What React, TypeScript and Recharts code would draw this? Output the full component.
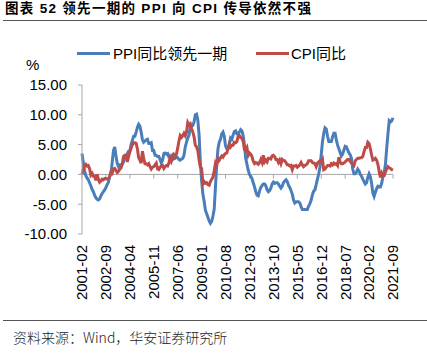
import React from "react";
import {
  LineChart,
  Line,
  XAxis,
  YAxis,
  ReferenceLine,
} from "recharts";

// CPI yoy, 2001-02 .. 2021-09
const cpi = [
  0.0, 0.8, 1.6, 1.7, 1.4, 1.5, 1.0, -0.1, 0.2, -0.3, -0.3,
  -1.0, 0.0, -0.8, -1.3, -1.1, -0.8, -0.9, -0.7, -0.7, -0.8, -0.7, -0.4,
  0.4, 0.2, 0.9, 1.0, 0.7, 0.3, 0.5, 0.9, 1.1, 1.8, 3.0, 3.2,
  3.2, 2.1, 3.0, 3.8, 4.4, 5.0, 5.3, 5.3, 5.2, 4.3, 2.8, 2.4,
  1.9, 3.9, 2.7, 1.8, 1.8, 1.6, 1.8, 1.3, 0.9, 1.2, 1.3, 1.6,
  1.9, 0.9, 0.8, 1.2, 1.4, 1.5, 1.0, 1.3, 1.5, 1.4, 1.9, 2.8,
  2.2, 2.7, 3.3, 3.0, 3.4, 4.4, 5.6, 6.5, 6.2, 6.5, 6.9, 6.5,
  7.1, 8.7, 8.3, 8.5, 7.7, 7.1, 6.3, 4.9, 4.6, 4.0, 2.4, 1.2,
  1.0, -1.6, -1.2, -1.5, -1.4, -1.7, -1.8, -1.2, -0.8, -0.5, 0.6, 1.9,
  1.5, 2.7, 2.4, 2.8, 3.1, 2.9, 3.3, 3.5, 3.6, 4.4, 5.1, 4.6,
  4.9, 4.9, 5.4, 5.3, 5.5, 6.4, 6.5, 6.2, 6.1, 5.5, 4.2, 4.1,
  4.5, 3.2, 3.6, 3.4, 3.0, 2.2, 1.8, 2.0, 1.9, 1.7, 2.0, 2.5,
  2.0, 3.2, 2.1, 2.4, 2.1, 2.7, 2.7, 2.6, 3.1, 3.2, 3.0, 2.5,
  2.5, 2.0, 2.4, 1.8, 2.5, 2.3, 2.3, 2.0, 1.6, 1.6, 1.4, 1.5,
  0.8, 1.4, 1.4, 1.5, 1.2, 1.4, 1.6, 2.0, 1.6, 1.3, 1.5, 1.6,
  1.8, 2.3, 2.3, 2.3, 2.0, 1.9, 1.8, 1.3, 1.9, 2.1, 2.3, 2.1,
  2.5, 0.8, 0.9, 1.2, 1.5, 1.5, 1.4, 1.8, 1.6, 1.9, 1.7, 1.8,
  1.5, 2.9, 2.1, 1.8, 1.8, 1.9, 2.1, 2.3, 2.5, 2.5, 2.2, 1.9,
  1.7, 1.5, 2.3, 2.5, 2.7, 2.7, 2.8, 2.8, 3.0, 3.8, 4.5, 4.5,
  5.4, 5.2, 4.3, 3.3, 2.4, 2.5, 2.7, 2.4, 1.7, 0.5, -0.5, 0.2,
  -0.3, -0.2, 0.4, 0.9, 1.3, 1.1, 1.0, 0.8, 0.7,
];

// PPI yoy shifted one month (value shown at month t is PPI of t-1)
const ppiLead = [
  3.5, 2.0, 0.6, -0.2, -0.6, -0.9, -1.4, -1.9, -2.5, -2.9, -3.5, -3.9,
  -4.2, -4.3, -4.1, -3.6, -3.2, -2.9, -2.6, -2.2, -1.7, -1.3, -0.3, 0.2,
  2.0, 4.0, 4.6, 3.1, 1.8, 1.3, 1.6, 1.6, 1.7, 2.1, 2.9, 2.9,
  3.5, 3.9, 4.0, 5.0, 5.7, 6.4, 6.4, 7.1, 7.9, 8.4, 8.1, 7.1,
  5.8, 5.4, 5.6, 5.8, 5.9, 5.2, 5.2, 5.3, 4.0, 4.0, 3.2, 3.2,
  3.0, 3.0, 2.5, 1.9, 2.4, 3.5, 3.6, 3.4, 3.5, 2.9, 2.8, 3.1,
  3.3, 2.6, 2.7, 2.9, 2.8, 2.5, 2.4, 2.6, 2.7, 3.2, 4.6, 5.4,
  6.1, 6.6, 8.0, 8.1, 8.2, 8.8, 10.0, 10.1, 9.1, 6.6, 2.0, -1.1,
  -3.3, -4.5, -6.0, -6.6, -7.2, -7.8, -8.2, -7.9, -7.0, -5.8, -2.1, 1.7,
  4.3, 5.4, 5.9, 6.8, 7.1, 6.4, 4.8, 4.3, 4.3, 5.0, 6.1, 5.9,
  6.6, 7.2, 7.3, 6.8, 6.8, 7.1, 7.5, 7.3, 6.5, 5.0, 2.7, 1.7,
  0.7, 0.0, -0.3, -0.7, -1.4, -2.1, -2.9, -3.5, -3.6, -2.8, -2.2, -1.9,
  -1.6, -1.6, -1.9, -2.6, -2.9, -2.7, -2.3, -1.6, -1.3, -1.5, -1.4, -1.4,
  -1.6, -2.0, -2.3, -2.0, -1.4, -1.1, -0.9, -1.2, -1.8, -2.2, -2.7, -3.3,
  -4.3, -4.8, -4.6, -4.6, -4.6, -4.8, -5.4, -5.9, -5.9, -5.9, -5.9, -5.9,
  -5.3, -4.9, -4.3, -3.4, -2.8, -2.6, -1.7, -0.8, 0.1, 1.2, 3.3, 5.5,
  6.9, 7.8, 7.6, 6.4, 5.5, 5.5, 5.5, 6.3, 6.9, 6.9, 5.8, 4.9,
  4.3, 3.7, 3.1, 3.4, 4.1, 4.7, 4.6, 4.1, 3.6, 3.3, 2.7, 0.9,
  0.1, 0.1, 0.4, 0.9, 0.6, 0.0, -0.3, -0.8, -1.2, -1.6, -1.4, -0.5,
  0.1, -0.4, -1.5, -3.1, -3.7, -3.0, -2.4, -2.0, -2.1, -2.1, -1.5, -0.4,
  0.3, 1.7, 4.4, 6.8, 9.0, 8.8, 9.0, 9.5,
];

// month labels 2001-02 .. 2021-09
const months: string[] = cpi.map((_, i) => {
  const total = i + 1;
  const y = 2001 + Math.floor(total / 12);
  const m = (total % 12) + 1;
  return `${y}-${m < 10 ? "0" + m : m}`;
});

const tickLabels = [
  "2001-02", "2002-09", "2004-04", "2005-11", "2007-06", "2009-01", "2010-08",
  "2012-03", "2013-10", "2015-05", "2016-12", "2018-07", "2020-02", "2021-09",
];

const yTicks = [-10, -5, 0, 5, 10, 15];

const BLUE = "#4a7ebb";
const RED = "#be4b48";
const AXIS = "#a6a6a6";
const FONT = "'Liberation Sans', Arial, 'Noto Sans CJK SC', sans-serif";

const data = months.map((m, i) => ({ month: m, ppi: ppiLead[i], cpi: cpi[i] }));

const XTick = (props: any) => {
  const { x, y, payload } = props;
  return (
    <text
      x={x}
      y={y}
      dy="0.36em"
      textAnchor="end"
      transform={`rotate(-90, ${x}, ${y})`}
      fontSize={15}
      fill="#000"
      fontFamily={FONT}
    >
      {payload.value}
    </text>
  );
};

const App: React.FC = () => {
  return (
    <div
      style={{
        position: "relative",
        width: 427,
        height: 353,
        background: "#fff",
        fontFamily: FONT,
        overflow: "hidden",
      }}
    >
      <style>{"body{margin:0}"}</style>
      <div
        style={{
          position: "absolute",
          left: 5,
          top: 0,
          lineHeight: "17px",
          fontSize: 13.5,
          fontWeight: "bold",
          letterSpacing: 1.3,
          color: "#000",
          whiteSpace: "nowrap",
          fontFamily: "Arial, 'Liberation Sans', 'Noto Sans CJK SC', sans-serif",
        }}
      >
        图表 52 领先一期的 PPI 向 CPI 传导依然不强
      </div>
      <div style={{ position: "absolute", left: 3, right: 0, top: 20, height: 1, background: "#555" }} />

      {/* legend */}
      <div style={{ position: "absolute", left: 77, top: 52, width: 33, height: 3, background: BLUE }} />
      <div style={{ position: "absolute", left: 113, top: 44, lineHeight: "20px", fontSize: 15, whiteSpace: "nowrap" }}>
        PPI同比领先一期
      </div>
      <div style={{ position: "absolute", left: 256, top: 52, width: 33, height: 3, background: RED }} />
      <div style={{ position: "absolute", left: 291, top: 44, lineHeight: "20px", fontSize: 15, whiteSpace: "nowrap" }}>
        CPI同比
      </div>

      <div style={{ position: "absolute", left: 26, top: 55, lineHeight: "20px", fontSize: 15 }}>%</div>

      <div style={{ position: "absolute", left: 0, top: 0 }}>
        <LineChart
          width={427}
          height={353}
          data={data}
          margin={{ top: 85, right: 34, left: 0, bottom: 0 }}
        >
          <XAxis
            dataKey="month"
            ticks={tickLabels}
            interval={0}
            axisLine={false}
            tickLine={false}
            tickSize={0}
            tickMargin={11}
            height={119}
            tick={<XTick />}
          />
          <YAxis
            width={82}
            domain={[-10, 15]}
            ticks={yTicks}
            tickFormatter={(v: number) => v.toFixed(2)}
            axisLine={{ stroke: AXIS }}
            tickLine={{ stroke: AXIS }}
            tickSize={4}
            tickMargin={11}
            tick={{ fontSize: 15, fill: "#000", fontFamily: FONT }}
            allowDataOverflow
          />
          <ReferenceLine y={0} stroke={AXIS} strokeWidth={1} />
          {tickLabels.map((t) => (
            <ReferenceLine
              key={t}
              segment={[
                { x: t, y: 0 },
                { x: t, y: -0.7 },
              ]}
              stroke={AXIS}
              strokeWidth={1}
            />
          ))}
          <Line
            type="linear"
            dataKey="ppi"
            stroke={BLUE}
            strokeWidth={3}
            dot={false}
            isAnimationActive={false}
          />
          <Line
            type="linear"
            dataKey="cpi"
            stroke={RED}
            strokeWidth={3}
            dot={false}
            isAnimationActive={false}
          />
        </LineChart>
      </div>

      <div style={{ position: "absolute", left: 3, right: 0, top: 320, height: 1, background: "#555" }} />
      <div
        style={{
          position: "absolute",
          left: 13,
          top: 328,
          lineHeight: "18px",
          fontSize: 14,
          color: "#222",
          whiteSpace: "nowrap",
          fontFamily: "'Noto Sans CJK SC', sans-serif",
          fontWeight: 300,
        }}
      >
        资料来源：Wind，华安证券研究所
      </div>
    </div>
  );
};

export default App;
